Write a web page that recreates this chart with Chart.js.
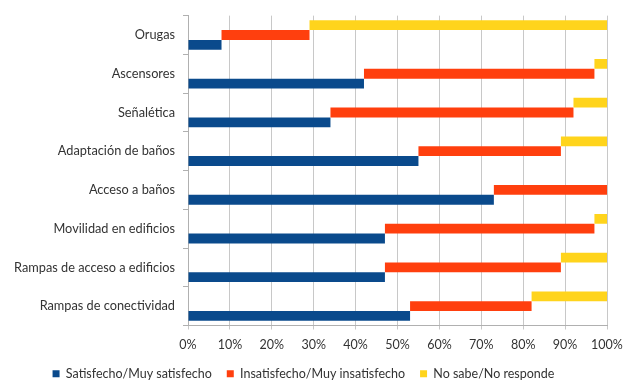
<!DOCTYPE html>
<html>
<head>
<meta charset="utf-8">
<script src="https://cdn.jsdelivr.net/npm/chart.js@4/dist/chart.umd.min.js"></script>
<style>
  html, body { margin: 0; padding: 0; background: #fff; }
  #wrap { width: 634px; height: 390px; }
</style>
</head>
<body>
<div id="wrap"><canvas id="chart"></canvas></div>
<script>
// categories top to bottom
const categories = ['Orugas', 'Ascensores', 'Señalética', 'Adaptación de baños',
  'Acceso a baños', 'Movilidad en edificios', 'Rampas de acceso a edificios', 'Rampas de conectividad'];

// percentages
const satisfecho = [8, 42, 34, 55, 73, 47, 47, 53];
const insatisfecho = [21, 55, 58, 34, 27, 50, 42, 29];
const noSabe = [71, 3, 8, 11, 0, 3, 11, 18];

const xTicks = [0, 10, 20, 30, 40, 50, 60, 70, 80, 90, 100];

// each series starts where the previous one ends, but sits on its own row
function ranges(values, before) {
  return values.map((v, i) => {
    const start = before.reduce((s, arr) => s + arr[i], 0);
    return [start, start + v];
  });
}

const fontFam = 'Lato, "Liberation Sans", sans-serif';

new Chart(document.querySelector('#chart').getContext('2d'), {
  type: 'bar',
  data: {
    labels: categories,
    datasets: [
      { label: 'No sabe/No responde', data: ranges(noSabe, [satisfecho, insatisfecho]), backgroundColor: '#FFD41C' },
      { label: 'Insatisfecho/Muy insatisfecho', data: ranges(insatisfecho, [satisfecho]), backgroundColor: '#FF3F0E' },
      { label: 'Satisfecho/Muy satisfecho', data: ranges(satisfecho, []), backgroundColor: '#0A4A8C' }
    ]
  },
  options: {
    indexAxis: 'y',
    responsive: true,
    maintainAspectRatio: false,
    animation: false,
    categoryPercentage: 0.76,
    barPercentage: 1,
    layout: { padding: { left: 0, top: 15, right: 27, bottom: 0 } },
    plugins: {
      tooltip: { enabled: false },
      legend: {
        position: 'bottom',
        align: 'center',
        reverse: true,
        maxHeight: 39.5,
        labels: {
          boxWidth: 7,
          boxHeight: 7,
          padding: 15,
          color: '#333',
          font: { family: fontFam, size: 12.5 }
        }
      }
    },
    scales: {
      x: {
        min: 0,
        max: 100,
        afterBuildTicks: axis => { axis.ticks = xTicks.map(v => ({ value: v })); },
        afterFit: axis => { axis.height = 27; },
        ticks: {
          color: '#333',
          padding: 7.5,
          font: { family: fontFam, size: 12.5 },
          callback: v => v + '%'
        },
        grid: { color: '#c8c8c8', tickLength: 4 },
        border: { color: '#b0b0b0' }
      },
      y: {
        afterFit: axis => { axis.width = 188; },
        ticks: {
          color: '#333',
          padding: 8,
          font: { family: fontFam, size: 12.75 }
        },
        grid: { offset: true, drawOnChartArea: false, tickLength: 5, color: '#b0b0b0' },
        border: { color: '#b0b0b0' }
      }
    }
  }
});
</script>
</body>
</html>
